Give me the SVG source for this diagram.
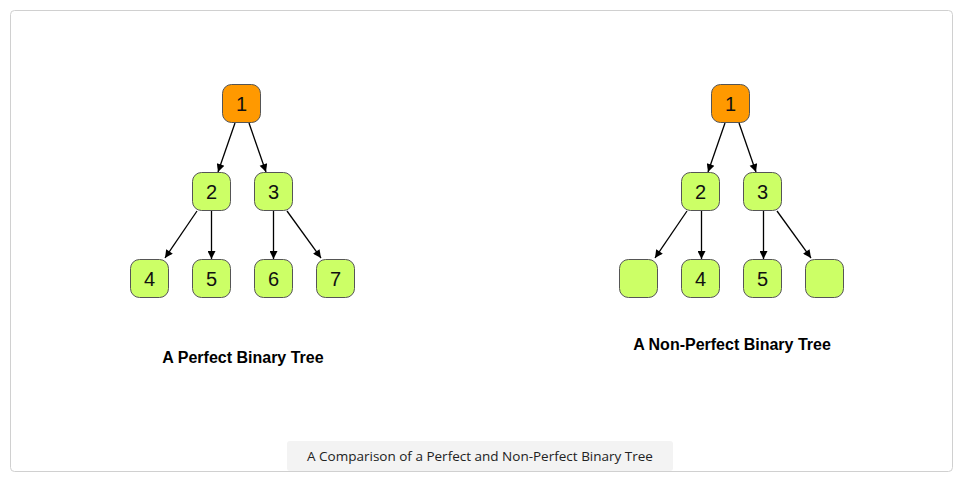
<svg xmlns="http://www.w3.org/2000/svg" width="975" height="486" viewBox="0 0 975 486">
<style>
.frame{fill:#fff;stroke:#d0d0d0;stroke-width:1}
.n rect{stroke:#555;stroke-width:1}
.root rect{fill:#ff9900}
.leaf rect{fill:#ccff66}
.n text{font-family:"Liberation Sans",Arial,sans-serif;font-size:20px;fill:#111;text-anchor:middle;dominant-baseline:central}
.edges line{stroke:#000;stroke-width:1.3;marker-end:url(#ah)}
.title{font-family:"Liberation Sans",Arial,sans-serif;font-size:16px;font-weight:bold;fill:#000;text-anchor:middle}
.cap{font-family:"Open Sans","Lato",sans-serif;font-size:13.5px;fill:#222;text-anchor:middle}
</style>
<defs>
<marker id="ah" viewBox="0 0 10 10" refX="10" refY="5" markerWidth="11" markerHeight="8" markerUnits="userSpaceOnUse" orient="auto">
<path d="M0,0 L10,5 L0,10 z" fill="#000"/>
</marker>
</defs>
<rect width="975" height="486" fill="#fff"/>
<rect class="frame" x="10.5" y="10.5" width="942" height="461" rx="4"/>

<g id="edges" class="edges">
<line x1="235" y1="123" x2="218" y2="172"/>
<line x1="249" y1="123" x2="266" y2="172"/>
<line x1="197" y1="211" x2="165" y2="258"/>
<line x1="211.5" y1="211" x2="211.5" y2="259"/>
<line x1="273.5" y1="211" x2="273.5" y2="259"/>
<line x1="287" y1="211" x2="321" y2="258"/>

<line x1="725" y1="123" x2="708" y2="172"/>
<line x1="739" y1="123" x2="756" y2="172"/>
<line x1="687" y1="211" x2="655" y2="258"/>
<line x1="701.5" y1="211" x2="701.5" y2="259"/>
<line x1="763.5" y1="211" x2="763.5" y2="259"/>
<line x1="777" y1="211" x2="811" y2="258"/>
</g>

<g id="L1" class="n root"><rect x="222.5" y="84.5" width="38" height="38" rx="9"/><text x="241.5" y="104">1</text></g>
<g id="L2" class="n leaf"><rect x="192.5" y="172.5" width="38" height="38" rx="9"/><text x="211.5" y="192">2</text></g>
<g id="L3" class="n leaf"><rect x="254.5" y="172.5" width="38" height="38" rx="9"/><text x="273.5" y="192">3</text></g>
<g id="L4" class="n leaf"><rect x="130.5" y="259.5" width="38" height="38" rx="9"/><text x="149.5" y="279">4</text></g>
<g id="L5" class="n leaf"><rect x="192.5" y="259.5" width="38" height="38" rx="9"/><text x="211.5" y="279">5</text></g>
<g id="L6" class="n leaf"><rect x="254.5" y="259.5" width="38" height="38" rx="9"/><text x="273.5" y="279">6</text></g>
<g id="L7" class="n leaf"><rect x="316.5" y="259.5" width="38" height="38" rx="9"/><text x="335.5" y="279">7</text></g>

<g id="R1" class="n root"><rect x="711.5" y="84.5" width="38" height="38" rx="9"/><text x="730.5" y="104">1</text></g>
<g id="R2" class="n leaf"><rect x="681.5" y="172.5" width="38" height="38" rx="9"/><text x="700.5" y="192">2</text></g>
<g id="R3" class="n leaf"><rect x="743.5" y="172.5" width="38" height="38" rx="9"/><text x="762.5" y="192">3</text></g>
<g id="R4" class="n leaf"><rect x="619.5" y="259.5" width="38" height="38" rx="9"/></g>
<g id="R5" class="n leaf"><rect x="681.5" y="259.5" width="38" height="38" rx="9"/><text x="700.5" y="279">4</text></g>
<g id="R6" class="n leaf"><rect x="743.5" y="259.5" width="38" height="38" rx="9"/><text x="762.5" y="279">5</text></g>
<g id="R7" class="n leaf"><rect x="805.5" y="259.5" width="38" height="38" rx="9"/></g>

<text class="title" x="243" y="363">A Perfect Binary Tree</text>
<text class="title" x="732" y="350">A Non-Perfect Binary Tree</text>

<g id="caption">
<rect x="287" y="441" width="386" height="30" rx="3" fill="#f3f3f3"/>
<text class="cap" x="480" y="461">A Comparison of a Perfect and Non-Perfect Binary Tree</text>
</g>
</svg>
